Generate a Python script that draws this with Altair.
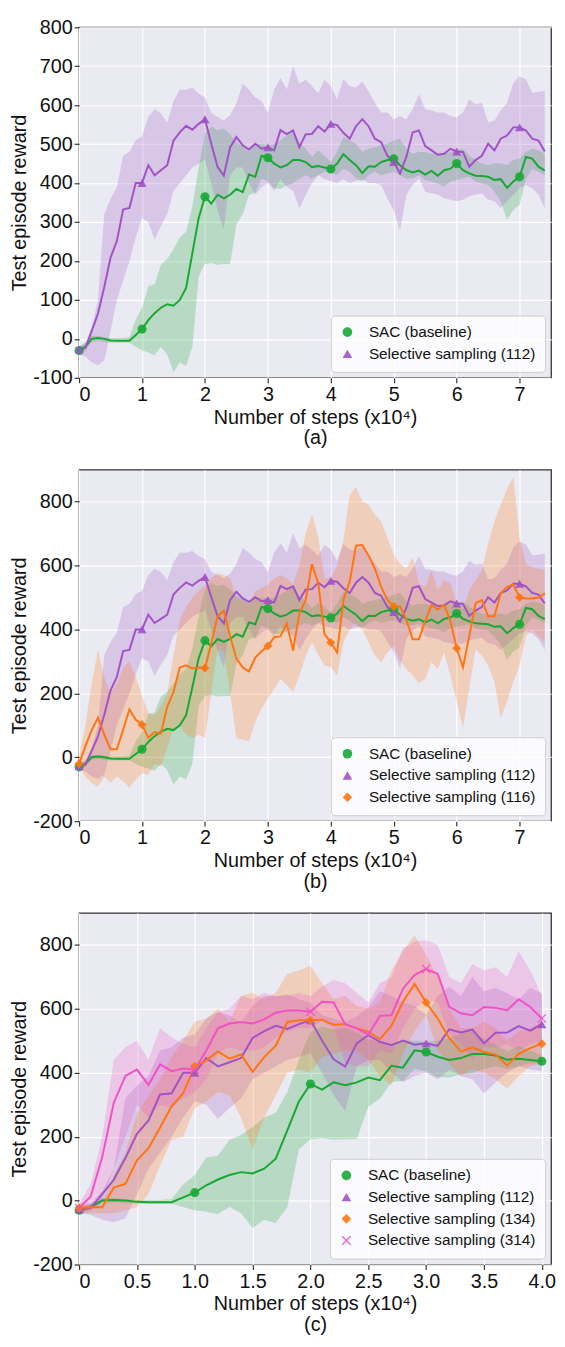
import altair as alt
import pandas as pd

# ---------------- data (x in units of 10^4 steps) ----------------
STEPS = [round(i / 10, 1) for i in range(75)]   # 0.0 ... 7.4

SAC_MEAN = [-30, -20, 0, 2, 0, -4, -5, -5, -5, 10,
            25, 48, 66, 80, 89, 85, 100, 131, 220, 310,
            365, 347, 370, 361, 370, 385, 377, 422, 416, 470,
            465, 450, 440, 446, 459, 459, 454, 441, 444, 440,
            436, 450, 474, 459, 446, 426, 443, 442, 454, 459,
            462, 446, 433, 427, 432, 422, 431, 419, 433, 437,
            450, 433, 425, 419, 418, 416, 408, 410, 388, 404,
            416, 467, 463, 442, 432]
SAC_LO = [-40, -30, -8, -5, -8, -10, -10, -10, -10, -20,
          -30, -35, -42, -20, -40, -86, -60, -70, -20, 160,
          192, 195, 190, 192, 192, 294, 319, 370, 375, 412,
          404, 387, 385, 395, 399, 412, 420, 412, 420, 429,
          429, 420, 437, 429, 412, 404, 420, 429, 420, 425,
          429, 420, 412, 412, 420, 408, 404, 399, 391, 404,
          408, 412, 416, 404, 399, 395, 378, 353, 306, 331,
          344, 412, 437, 429, 420]
SAC_HI = [-20, -10, 8, 8, 5, 2, 2, 2, 5, 50,
          80, 135, 140, 190, 205, 230, 260, 275, 340, 440,
          528, 545, 535, 540, 525, 505, 495, 480, 500, 500,
          497, 500, 509, 522, 535, 505, 488, 467, 484, 470,
          454, 480, 518, 509, 501, 480, 488, 492, 497, 501,
          509, 514, 488, 475, 480, 480, 475, 475, 475, 480,
          484, 488, 471, 459, 450, 446, 450, 450, 446, 459,
          463, 480, 488, 484, 475]

S112_MEAN = [-27, -23, 20, 65, 133, 209, 251, 332, 336, 400,
             400, 446, 420, 433, 446, 509, 530, 547, 537, 552,
             564, 501, 442, 419, 492, 518, 497, 486, 501, 488,
             492, 484, 536, 526, 535, 492, 525, 526, 546, 532,
             552, 549, 529, 514, 546, 564, 546, 514, 505, 470,
             454, 425, 467, 530, 535, 495, 484, 473, 475, 488,
             481, 480, 442, 459, 470, 501, 484, 514, 522, 543,
             543, 535, 514, 509, 481]
S112_LO = [-40, -45, -60, -68, -55, 20, 100, 150, 200, 260,
           310, 300, 255, 290, 320, 380, 400, 420, 440, 450,
           460, 400, 330, 280, 420, 440, 440, 400, 370, 390,
           400, 380, 410, 390, 380, 335, 370, 400, 420, 410,
           405, 400, 410, 400, 405, 410, 400, 400, 395, 360,
           330, 277, 370, 395, 412, 378, 374, 370, 361, 357,
           353, 357, 366, 370, 374, 357, 353, 336, 353, 370,
           387, 395, 387, 370, 336]
S112_HI = [-20, -10, 30, 100, 320, 360, 390, 470, 480, 510,
           520, 570, 590, 580, 555, 610, 640, 640, 645, 630,
           620, 580, 570, 560, 575, 605, 655, 640, 620, 610,
           580, 640, 670, 640, 700, 655, 665, 649, 630, 665,
           649, 615, 667, 649, 645, 661, 636, 606, 581, 581,
           564, 572, 564, 590, 628, 590, 586, 581, 581, 572,
           568, 581, 615, 602, 606, 556, 560, 586, 606, 657,
           674, 666, 632, 634, 637]

S116_MEAN = [-20, 35, 85, 124, 71, 25, 25, 86, 150, 117,
             102, 61, 79, 74, 158, 204, 281, 288, 278, 281,
             279, 356, 440, 458, 378, 309, 281, 269, 312, 332,
             348, 376, 378, 419, 334, 450, 491, 604, 545, 385,
             359, 328, 492, 549, 662, 664, 631, 590, 533, 492,
             472, 472, 431, 369, 369, 426, 477, 462, 477, 426,
             341, 282, 379, 482, 492, 441, 441, 513, 533, 540,
             500, 497, 497, 500, 513]
S116_LO = [-30, -60, -80, -92, -60, -80, -60, -75, -95, -70,
           -50, -55, -20, -30, 30, 90, 100, 70, 60, 70,
           60, 200, 340, 330, 200, 60, 55, 50, 112, 153,
           184, 214, 245, 225, 204, 256, 317, 360, 320, 287,
           282, 256, 359, 400, 420, 400, 359, 318, 297, 328,
           349, 303, 277, 256, 231, 246, 297, 277, 328, 256,
           174, 92, 215, 338, 318, 287, 236, 123, 174, 236,
           287, 379, 400, 379, 359]
S116_HI = [0, 100, 230, 336, 250, 200, 230, 280, 300, 250,
           190, 140, 130, 160, 200, 320, 430, 470, 500, 520,
           540, 560, 575, 570, 560, 500, 490, 480, 520, 530,
           540, 560, 570, 560, 540, 600, 700, 760, 690, 560,
           560, 600, 680, 820, 846, 800, 790, 759, 738, 687,
           636, 605, 590, 626, 544, 533, 585, 523, 554, 544,
           482, 462, 523, 554, 585, 667, 738, 790, 840, 877,
           687, 605, 595, 590, 585]

S134_MEAN = [-23, -21, -21, 41, 52, 126, 164, 229, 295, 336,
             420, 439, 467, 444, 457, 403, 449, 485, 559, 564,
             564, 566, 550, 552, 539, 529, 505, 547, 622, 678,
             620, 570, 508, 467, 479, 465, 457, 423, 459, 477,
             491]
S134_LO = [-40, -40, -40, -40, -30, -20, 20, 110, 190, 200,
           290, 310, 340, 330, 260, 160, 260, 330, 400, 410,
           400, 450, 460, 470, 470, 440, 390, 360, 460, 530,
           580, 470, 430, 390, 410, 400, 380, 350, 390, 420,
           430]
S134_HI = [-10, -10, -10, 80, 150, 270, 330, 380, 450, 500,
           560, 570, 600, 560, 640, 650, 630, 650, 710, 720,
           735, 680, 630, 640, 610, 600, 620, 720, 780, 830,
           770, 700, 600, 540, 540, 560, 540, 500, 530, 540,
           560]

S314_MEAN = [-23, 13, 136, 306, 390, 410, 362, 426, 405, 413,
             410, 470, 539, 554, 559, 554, 567, 588, 595, 595,
             591, 622, 620, 552, 539, 519, 578, 580, 663, 706,
             725, 709, 606, 586, 580, 606, 603, 596, 630, 606,
             570]
S314_LO = [-40, -30, 0, 100, 200, 300, 260, 300, 290, 320,
           340, 380, 460, 480, 470, 470, 480, 510, 530, 540,
           540, 560, 540, 430, 420, 420, 470, 460, 540, 600,
           630, 620, 520, 490, 440, 480, 480, 490, 470, 490,
           500]
S314_HI = [-10, 50, 200, 440, 480, 500, 440, 540, 510, 490,
           480, 540, 590, 600, 640, 630, 650, 640, 640, 650,
           640, 670, 690, 680, 650, 620, 680, 700, 790, 810,
           815, 800, 700, 680, 740, 720, 730, 700, 780, 720,
           640]

NAMES = {
    "sac": "SAC (baseline)",
    "112": "Selective sampling (112)",
    "116": "Selective sampling (116)",
    "134": "Selective sampling (134)",
    "314": "Selective sampling (314)",
}
COLORS = {"sac": "#17a834", "112": "#a052c6", "116": "#ff7410",
          "134": "#ff7410", "314": "#f052c4"}
XPATH = ("M-1,-0.8L-0.8,-1L0,-0.2L0.8,-1L1,-0.8L0.2,0L1,0.8L0.8,1L0,0.2"
         "L-0.8,1L-1,0.8L-0.2,0Z")
SHAPES = {"sac": "circle", "112": "triangle-up", "116": "diamond",
          "134": "diamond", "314": XPATH}
SERIES = {
    "sac": (SAC_MEAN, SAC_LO, SAC_HI),
    "112": (S112_MEAN, S112_LO, S112_HI),
    "116": (S116_MEAN, S116_LO, S116_HI),
    "134": (S134_MEAN, S134_LO, S134_HI),
    "314": (S314_MEAN, S314_LO, S314_HI),
}

FONT = "Liberation Sans"
PW = 478


def frame(key, n):
    mean, lo, hi = SERIES[key]
    n = min(n, len(mean))
    return pd.DataFrame({
        "step": STEPS[:n], "mean": mean[:n], "lo": lo[:n], "hi": hi[:n],
        "series": [NAMES[key]] * n,
    })


def panel(keys, npts, xmax, ydom, yticks, xticks, xexpr, caption, ph):
    xenc = alt.X("step:Q",
                 scale=alt.Scale(domain=[0, xmax], nice=False, zero=False),
                 axis=alt.Axis(values=xticks, labelExpr=xexpr,
                               title=["Number of steps (x10\u2074)", caption]))
    yscale = alt.Scale(domain=ydom, nice=False, zero=False)
    yaxis = alt.Axis(values=yticks, labelExpr="'' + datum.value",
                     title="Test episode reward")
    bands, lines, pts = [], [], []
    for k in keys:
        df = frame(k, npts)
        bands.append(alt.Chart(df).mark_area(color=COLORS[k], opacity=0.24).encode(
            x=xenc, y=alt.Y("lo:Q", scale=yscale, axis=yaxis), y2="hi:Q"))
        lines.append(alt.Chart(df).mark_line(color=COLORS[k], strokeWidth=2).encode(
            x=xenc, y=alt.Y("mean:Q", scale=yscale, axis=yaxis)))
        pts.append(df[df["step"].apply(lambda s: abs(s - round(s)) < 1e-9)])
    dfp = pd.concat(pts)
    names = [NAMES[k] for k in keys]
    points = alt.Chart(dfp).mark_point(filled=True, size=85, opacity=0.9,
                                       strokeWidth=0).encode(
        x=xenc,
        y=alt.Y("mean:Q", scale=yscale, axis=yaxis),
        color=alt.Color("series:N",
                        scale=alt.Scale(domain=names, range=[COLORS[k] for k in keys]),
                        legend=alt.Legend(title=None)),
        shape=alt.Shape("series:N",
                        scale=alt.Scale(domain=names, range=[SHAPES[k] for k in keys]),
                        legend=alt.Legend(title=None)),
    )
    return alt.layer(*bands, *lines, points).properties(width=PW, height=ph)


pa = panel(["sac", "112"], 75, 7.5, [-100, 800],
           [-100, 0, 100, 200, 300, 400, 500, 600, 700, 800],
           [0, 1, 2, 3, 4, 5, 6, 7], "'' + datum.value", "(a)", 355)
pb = panel(["sac", "112", "116"], 75, 7.5, [-200, 900],
           [-200, 0, 200, 400, 600, 800],
           [0, 1, 2, 3, 4, 5, 6, 7], "'' + datum.value", "(b)", 356)
pc = panel(["sac", "112", "134", "314"], 41, 4.08, [-200, 900],
           [-200, 0, 200, 400, 600, 800],
           [0, 0.5, 1, 1.5, 2, 2.5, 3, 3.5, 4],
           "datum.value == 0 ? '0' : format(datum.value, '.1f')", "(c)", 356)

chart = alt.vconcat(pa, pb, pc, spacing=20).resolve_scale(
    x="independent", y="independent", color="independent", shape="independent"
).resolve_legend(color="independent", shape="independent").properties(
    padding={"left": 1, "top": 0, "right": 0, "bottom": 0}
).configure(font=FONT).configure_view(
    fill="#EAEAF2", stroke="#333333", strokeWidth=1.3
).configure_axis(
    labelFont=FONT, titleFont=FONT, labelFontSize=20, titleFontSize=20,
    titleFontWeight="normal", labelColor="#111111", titleColor="#111111",
    tickColor="#333333", tickSize=5, tickWidth=1.2, domain=False,
    grid=True, gridColor="#ffffff", gridWidth=1.2, labelPadding=2,
    titlePadding=3, titleLineHeight=21,
).configure_legend(
    orient="bottom-right", offset=6, padding=9,
    fillColor="rgba(255,255,255,0.8)", strokeColor="#cccccc", cornerRadius=4,
    labelFont=FONT, labelFontSize=15.5, labelColor="#111111", symbolSize=95,
    rowPadding=5, labelOffset=14, symbolStrokeWidth=0, labelLimit=400,
)

chart.save("out.html", embed_options={"renderer": "svg", "actions": False})
